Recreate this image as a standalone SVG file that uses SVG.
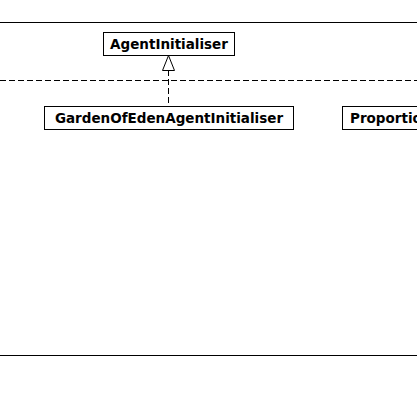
<svg xmlns="http://www.w3.org/2000/svg" width="417" height="393" viewBox="0 0 417 393">
  <style>
    .box { fill: #fff; stroke: #000; stroke-width: 1; }
    .lbl { font-family: "DejaVu Sans", sans-serif; font-size: 13.5px; font-weight: bold; fill: #000; text-anchor: middle; }
    .rule { stroke: #000; stroke-width: 1; }
    .dash { stroke: #000; stroke-width: 1; stroke-dasharray: 6 3; fill: none; }
  </style>
  <rect width="417" height="393" fill="#fff"/>
  <!-- frame rules -->
  <line class="rule" x1="0" y1="22.5" x2="417" y2="22.5"/>
  <line class="rule" x1="0" y1="355.5" x2="417" y2="355.5"/>
  <g id="connectors">
    <line class="dash" x1="0" y1="80.5" x2="417" y2="80.5"/>
    <line class="dash" x1="168.5" y1="70" x2="168.5" y2="106"/>
    <polygon points="168.5,55.5 162.5,70.5 174.5,70.5" fill="#fff" stroke="#000" stroke-width="1"/>
  </g>
  <g id="AgentInitialiser">
    <rect class="box" x="103.5" y="32.5" width="131" height="23"/>
    <text class="lbl" x="169" y="49">AgentInitialiser</text>
  </g>
  <g id="GardenOfEdenAgentInitialiser">
    <rect class="box" x="44.5" y="106.5" width="249" height="23"/>
    <text class="lbl" x="169" y="123">GardenOfEdenAgentInitialiser</text>
  </g>
  <g id="ProportionalAgentInitialiser">
    <rect class="box" x="342.5" y="106.5" width="240" height="23"/>
    <text class="lbl" x="350" y="123" style="text-anchor:start">ProportionalAgentInitialiser</text>
  </g>
</svg>
